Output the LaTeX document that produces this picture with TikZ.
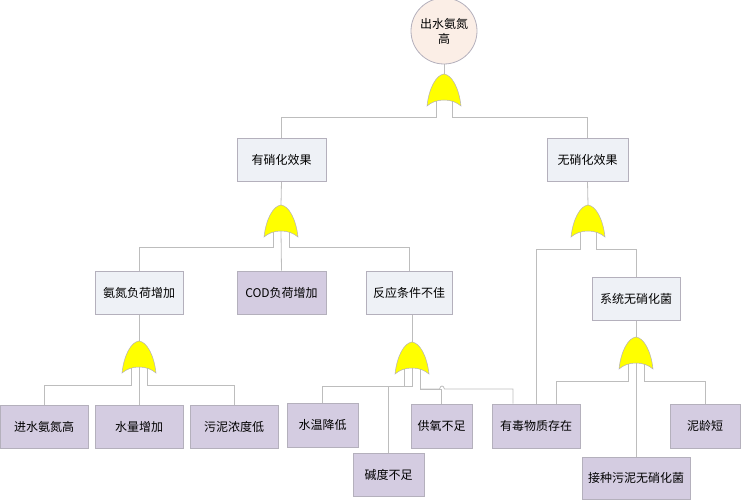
\documentclass[tikz,border=0pt]{standalone}
\usepackage{fontspec}
\newfontfamily\cjk{Noto Sans CJK SC}
\usetikzlibrary{calc}
\pgfdeclarelayer{bg}
\pgfsetlayers{bg,main}
\definecolor{boxlight}{HTML}{EEF1F6}
\definecolor{boxpurple}{HTML}{D4CCE1}
\definecolor{boxedge}{HTML}{B4B0BC}
\definecolor{circfill}{HTML}{FBEEE6}
\definecolor{wire}{HTML}{BDBDBD}
\definecolor{gateyellow}{HTML}{FFFF00}
\definecolor{txt}{HTML}{000000}
\tikzset{
  basebox/.style={rectangle, draw=boxedge, line width=0.8pt, minimum height=43pt, inner sep=0pt,
    text=txt, font=\cjk\fontsize{12}{15}\selectfont},
  lightbox/.style={basebox, fill=boxlight},
  purplebox/.style={basebox, fill=boxpurple},
  topevent/.style={circle, draw=boxedge, fill=circfill, line width=0.8pt, minimum size=66pt, inner sep=0pt,
    text=txt, font=\cjk\fontsize{12}{15}\selectfont, align=center},
  wireline/.style={draw=wire, line width=0.8pt},
  orgate/.pic={
    \coordinate (-apex) at (0,0);
    \coordinate (-l) at (-8,27);
    \coordinate (-m) at (0,26);
    \coordinate (-r) at (8,27);
    \path[fill=gateyellow, draw=boxedge, line width=0.5pt]
      (-17,32) .. controls (-15,14) and (-8,1) .. (0,0)
      .. controls (8,1) and (15,14) .. (17,32)
      .. controls (8,24) and (-8,24) .. cycle;
  }
}
\begin{document}
\begin{tikzpicture}[x=1pt,y=-1pt]
\useasboundingbox (0,0) rectangle (745,500);
% top event
\node[topevent] (top) at (444,31) {出水氨氮\\高};
% level 1
\node[lightbox, minimum width=89pt] (hasNit) at (281.5,159.5) {有硝化效果};
\node[lightbox, minimum width=81pt] (noNit) at (587.5,159.5) {无硝化效果};
% level 2
\node[lightbox, minimum width=88pt] (ammLoad) at (139,292.5) {氨氮负荷增加};
\node[purplebox, minimum width=89pt] (cod) at (281.5,292.5) {COD负荷增加};
\node[lightbox, minimum width=86pt] (react) at (409,292.5) {反应条件不佳};
\node[lightbox, minimum width=88pt] (sysNo) at (636,298.5) {系统无硝化菌};
% level 3
\node[purplebox, minimum width=88pt] (inNH) at (44,426.5) {进水氨氮高};
\node[purplebox, minimum width=88pt] (water) at (139,426.5) {水量增加};
\node[purplebox, minimum width=88pt] (sludge) at (234,426.5) {污泥浓度低};
\node[purplebox, minimum width=71pt, minimum height=44pt] (temp) at (322.5,425) {水温降低};
\node[purplebox, minimum width=71pt] (alk) at (388.5,474.5) {碱度不足};
\node[purplebox, minimum width=61pt, minimum height=44pt] (oxy) at (441.5,426) {供氧不足};
\node[purplebox, minimum width=88pt, minimum height=44pt] (toxic) at (536,426) {有毒物质存在};
\node[purplebox, minimum width=70pt, minimum height=44pt] (age) at (705,426) {泥龄短};
\node[purplebox, minimum width=108pt, minimum height=42pt] (inoc) at (636,478) {接种污泥无硝化菌};
% gates
\pic (g1) at (444,74) {orgate};
\pic (g2) at (281,205) {orgate};
\pic (g3) at (588,205) {orgate};
\pic (g4) at (139,341) {orgate};
\pic (g5) at (412,342) {orgate};
\pic (g6) at (636,337) {orgate};
% connectors
\begin{pgfonlayer}{bg}
\draw[wireline] (top.south) -- (g1-apex);
\draw[wireline] (g1-l) -- (g1-l |- 0,117) -| (hasNit.north);
\draw[wireline] (g1-r) -- (g1-r |- 0,117) -| (noNit.north);
\draw[wireline] (hasNit.south) -- (g2-apex);
\draw[wireline] (g2-l) -- (g2-l |- 0,247) -| (ammLoad.north);
\draw[wireline] (g2-m) -- (cod.north);
\draw[wireline] (g2-r) -- (g2-r |- 0,247) -| (react.north);
\draw[wireline] (noNit.south) -- (g3-apex);
\draw[wireline] (g3-l) -- (g3-l |- 0,249) -| (toxic.north);
\draw[wireline] (g3-r) -- (g3-r |- 0,249) -| (sysNo.north);
\draw[wireline] (sysNo.south) -- (g6-apex);
\draw[wireline] (g6-l) -- (g6-l |- 0,381) -| ($(toxic.north)+(20,0)$);
\draw[wireline] (g6-m) -- (inoc.north);
\draw[wireline] (g6-r) -- (g6-r |- 0,381) -| (age.north);
\draw[wireline] (ammLoad.south) -- (g4-apex);
\draw[wireline] (g4-l) -- (g4-l |- 0,385) -| (inNH.north);
\draw[wireline] (g4-m) -- (water.north);
\draw[wireline] (g4-r) -- (g4-r |- 0,385) -| (sludge.north);
\draw[wireline] (react.south -| g5-apex) -- (g5-apex);
\draw[wireline] (g5-l) -- (g5-l |- 0,386) -| (temp.north);
\draw[wireline] (g5-m) -- (g5-m |- 0,386) -| (alk.north);
\draw[wireline] (g5-r) -- (g5-r |- 0,389) -| (oxy.north);
\draw[wireline] (g5-r |- 0,389) -- (439.5,389) .. controls (440.5,385) and (443.5,385) .. (444.5,389)
  -- (513,389) -- ($(toxic.north)+(-23,0)$);
\end{pgfonlayer}
\end{tikzpicture}
\end{document}
